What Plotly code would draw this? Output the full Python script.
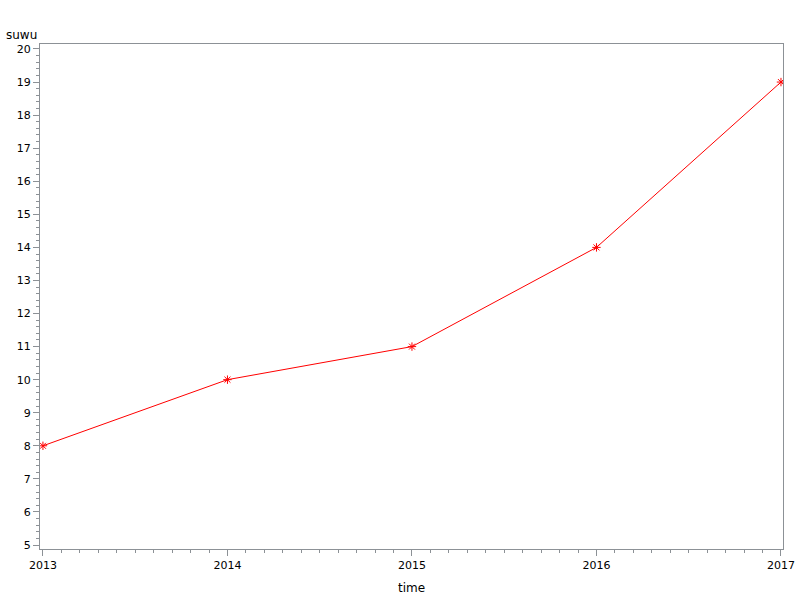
import plotly.graph_objects as go

years = [2013, 2014, 2015, 2016, 2017]
suwu = [8, 10, 11, 14, 19]
y_ticks = list(range(5, 21))

fig = go.Figure()
fig.add_trace(go.Scatter(
    x=years, y=suwu, mode="lines+markers",
    line=dict(color="red", width=1),
    marker=dict(symbol="asterisk-open", size=7, color="red", line=dict(color="red", width=1)),
    showlegend=False,
))

axcol = "#8c9196"
fig.update_layout(
    width=800, height=600,
    paper_bgcolor="white", plot_bgcolor="white",
    margin=dict(l=40, r=17, t=44, b=51),
    font=dict(family="DejaVu Sans", size=11, color="black"),
    xaxis=dict(
        range=[2012.984, 2017.011], tickmode="array", tickvals=years,
        ticktext=[str(y) for y in years], automargin=False,
        ticklabeloverflow="allow",
        showgrid=False, zeroline=False, showline=True, linecolor=axcol, linewidth=1,
        mirror=True, ticks="outside", ticklen=6, tickcolor=axcol,
        minor=dict(dtick=0.1, ticks="outside", ticklen=3, tickcolor=axcol, showgrid=False),
        title=dict(text="time", standoff=12, font=dict(size=12)),
    ),
    yaxis=dict(
        range=[4.879, 20.151], tickmode="array", tickvals=y_ticks, automargin=False,
        showgrid=False, zeroline=False, showline=True, linecolor=axcol, linewidth=1,
        mirror=True, ticks="outside", ticklen=6, tickcolor=axcol,
        minor=dict(dtick=0.2, ticks="outside", ticklen=3, tickcolor=axcol, showgrid=False),
    ),
)
fig.add_annotation(text="suwu", xref="paper", yref="paper", x=-0.049, y=1.0, yshift=9,
                   xanchor="left", yanchor="middle", showarrow=False, font=dict(size=12))
fig.write_html("out.html", config={"displayModeBar": False},
               post_script="document.body.style.margin='0';")
